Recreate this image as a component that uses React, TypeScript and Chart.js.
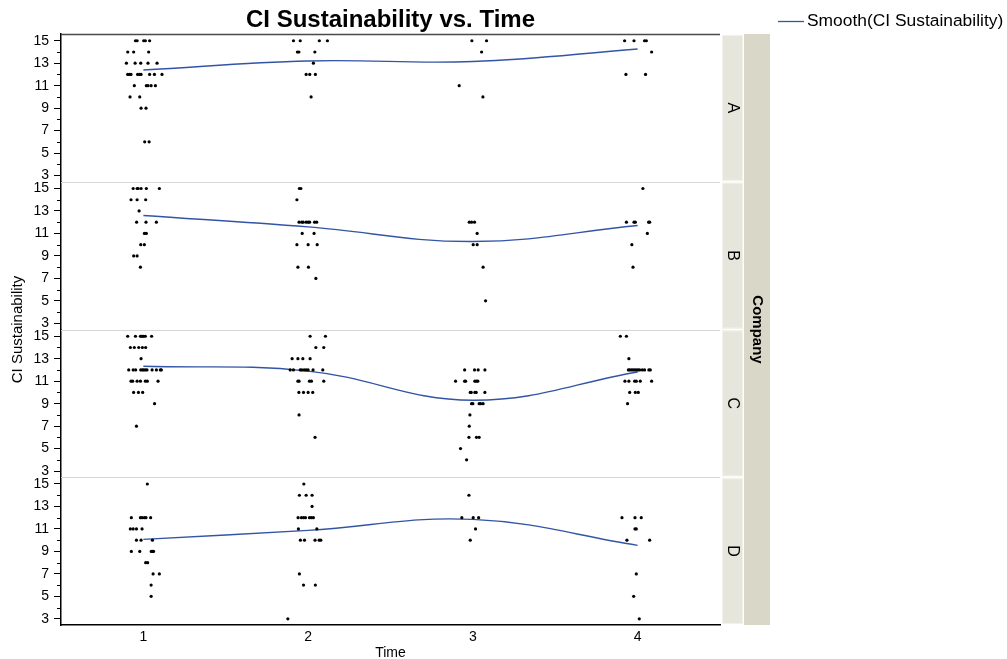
import React, { useEffect, useRef } from 'react';
import { Chart, registerables } from 'chart.js';

Chart.register(...registerables);

const FONT = "'Liberation Sans', Arial, Helvetica, sans-serif";

const companies = ['A', 'B', 'C', 'D'];
const timeTicks = [1, 2, 3, 4];
const valueTicks = [3, 4, 5, 6, 7, 8, 9, 10, 11, 12, 13, 14, 15];
const chartTitle = 'CI Sustainability vs. Time';
const yTitle = 'CI Sustainability';
const xTitle = 'Time';
const legendLabel = 'Smooth(CI Sustainability)';
const stripTitle = 'Company';

const smoothA = [12.4, 13.2, 13.15, 14.27];
const smoothB = [12.6, 11.58, 10.28, 11.7];
const smoothC = [12.33, 11.9, 9.3, 11.82];
const smoothD = [10.07, 10.87, 11.85, 9.54];

const pointsA: [number, number][] = [
  [0.952, 15], [0.962, 15], [1.002, 15], [1.012, 15], [1.038, 15],
  [0.905, 14], [0.941, 14], [1.032, 14],
  [0.897, 13], [0.95, 13], [0.984, 13], [1.028, 13], [1.083, 13],
  [0.905, 12], [0.915, 12], [0.925, 12], [0.965, 12], [0.976, 12], [0.986, 12], [1.038, 12], [1.067, 12], [1.113, 12],
  [0.945, 11], [1.018, 11], [1.028, 11], [1.047, 11], [1.073, 11],
  [0.919, 10], [0.978, 10], [0.986, 9], [1.016, 9], [1.008, 6], [1.035, 6],
  [1.911, 15], [1.952, 15], [2.068, 15], [2.117, 15], [1.935, 14], [1.944, 14], [2.041, 14],
  [2.032, 13], [1.988, 12], [2.01, 12], [2.044, 12], [2.018, 10],
  [2.994, 15], [3.083, 15], [3.053, 14], [2.917, 11], [3.061, 10],
  [3.921, 15], [3.978, 15], [4.042, 15], [4.053, 15], [4.085, 14], [3.929, 12], [4.048, 12],
];

const pointsB: [number, number][] = [
  [0.938, 15], [0.962, 15], [0.968, 15], [0.986, 15], [1.018, 15], [1.097, 15],
  [0.925, 14], [0.962, 14], [1.014, 14], [0.974, 13], [0.959, 12], [1.016, 12], [1.079, 12],
  [1.006, 11], [1.018, 11], [0.984, 10], [1.006, 10], [0.941, 9], [0.962, 9], [0.982, 8],
  [1.947, 15], [1.956, 15], [1.932, 14],
  [1.945, 12], [1.961, 12], [1.97, 12], [1.988, 12], [2.0, 12], [2.009, 12], [2.039, 12], [2.052, 12],
  [1.964, 11], [2.036, 11], [1.932, 10], [2.0, 10], [2.055, 10], [1.938, 8], [2.002, 8], [2.047, 7],
  [2.978, 12], [2.992, 12], [3.01, 12], [3.026, 11], [3.002, 10], [3.026, 10], [3.062, 8], [3.077, 5],
  [4.032, 15], [3.932, 12], [3.978, 12], [3.986, 12], [4.067, 12], [4.073, 12], [4.059, 11], [3.965, 10], [3.972, 8],
];

const pointsC: [number, number][] = [
  [0.905, 15], [0.952, 15], [0.982, 15], [0.988, 15], [0.996, 15], [1.002, 15], [1.012, 15], [1.05, 15],
  [0.921, 14], [0.945, 14], [0.972, 14], [0.994, 14], [1.014, 14], [0.986, 13],
  [0.911, 12], [0.938, 12], [0.953, 12], [0.984, 12], [0.994, 12], [1.002, 12], [1.012, 12], [1.022, 12],
  [1.053, 12], [1.079, 12], [1.103, 12], [1.109, 12],
  [0.925, 11], [0.935, 11], [0.962, 11], [0.982, 11], [1.012, 11], [1.024, 11], [1.089, 11],
  [0.941, 10], [0.97, 10], [0.996, 10], [1.068, 9], [0.958, 7],
  [2.012, 15], [2.105, 15], [2.047, 14], [2.095, 14], [1.903, 13], [1.938, 13], [1.968, 13], [2.012, 13],
  [1.891, 12], [1.911, 12], [1.952, 12], [1.962, 12], [1.976, 12], [1.988, 12], [2.0, 12], [2.03, 12], [2.089, 12],
  [1.938, 11], [1.945, 11], [2.008, 11], [2.02, 11], [2.095, 11],
  [1.944, 10], [1.972, 10], [2.0, 10], [2.028, 10], [1.945, 8], [2.042, 6],
  [2.95, 12], [3.01, 12], [3.032, 12], [3.073, 12],
  [2.895, 11], [2.95, 11], [2.956, 11], [3.012, 11], [3.022, 11], [3.03, 11],
  [2.984, 10], [2.99, 10], [3.012, 10], [3.02, 10], [3.073, 10],
  [2.992, 9], [3.0, 9], [3.038, 9], [3.047, 9], [3.062, 9],
  [2.982, 8], [2.978, 7], [2.976, 6], [3.022, 6], [3.038, 6], [2.925, 5], [2.962, 4],
  [3.895, 15], [3.932, 15], [3.947, 13],
  [3.944, 12], [3.952, 12], [3.962, 12], [3.972, 12], [3.982, 12], [3.992, 12], [4.002, 12], [4.012, 12],
  [4.028, 12], [4.042, 12], [4.068, 12], [4.077, 12],
  [3.923, 11], [3.947, 11], [3.982, 11], [3.992, 11], [4.016, 11], [4.085, 11],
  [3.952, 10], [3.986, 10], [4.004, 10], [3.939, 9],
];

const pointsD: [number, number][] = [
  [1.024, 15], [0.927, 12], [0.982, 12], [0.992, 12], [1.006, 12], [1.016, 12], [1.044, 12],
  [0.921, 11], [0.938, 11], [0.958, 11], [0.992, 11], [0.958, 10], [0.986, 10], [1.055, 10],
  [0.927, 9], [0.978, 9], [1.048, 9], [1.055, 9], [1.062, 9], [1.014, 8], [1.026, 8],
  [1.059, 7], [1.097, 7], [1.047, 6], [1.047, 5],
  [1.974, 15], [1.947, 14], [1.988, 14], [2.024, 14], [2.024, 13],
  [1.939, 12], [1.959, 12], [1.972, 12], [1.984, 12], [2.008, 12], [2.02, 12], [2.032, 12],
  [1.941, 11], [2.053, 11], [1.953, 10], [1.978, 10], [2.042, 10], [2.067, 10], [2.077, 10],
  [1.947, 7], [1.972, 6], [2.044, 6], [1.877, 3],
  [2.976, 14], [2.933, 12], [3.002, 12], [3.035, 12], [3.016, 11], [2.984, 10],
  [3.905, 12], [3.984, 12], [4.022, 12], [3.984, 11], [3.992, 11], [3.935, 10], [4.073, 10],
  [3.992, 7], [3.976, 5], [4.01, 3],
];

const pointSets = [pointsA, pointsB, pointsC, pointsD];
const smoothSets = [smoothA, smoothB, smoothC, smoothD];

const LINE_COLOR = '#3355a5';
const Y_MIN = 2.45;
const Y_MAX = 15.6;

const axisIds = companies.map((c) => 'y' + c);

const decorPlugin = {
  id: 'decor',
  beforeDatasetsDraw(chart: any) {
    const ctx = chart.ctx;
    const ca = chart.chartArea;
    ctx.save();
    ctx.strokeStyle = '#d6d6d6';
    ctx.lineWidth = 1;
    for (let i = 1; i < axisIds.length; i++) {
      const y = Math.round(chart.scales[axisIds[i]].top) + 0.5;
      ctx.beginPath();
      ctx.moveTo(ca.left, y);
      ctx.lineTo(ca.right, y);
      ctx.stroke();
    }
    ctx.restore();
  },
  afterDraw(chart: any) {
    const ctx = chart.ctx;
    const ca = chart.chartArea;
    ctx.save();
    // top border
    ctx.strokeStyle = '#4a4a4a';
    ctx.lineWidth = 1.5;
    ctx.beginPath();
    ctx.moveTo(ca.left, ca.top + 0.5);
    ctx.lineTo(ca.right, ca.top + 0.5);
    ctx.stroke();

    // minor ticks
    ctx.strokeStyle = '#000';
    ctx.lineWidth = 1;
    axisIds.forEach((id) => {
      const s = chart.scales[id];
      valueTicks.forEach((v) => {
        if (v % 2 === 0) {
          const y = Math.round(s.getPixelForValue(v)) + 0.5;
          ctx.beginPath();
          ctx.moveTo(ca.left - 4, y);
          ctx.lineTo(ca.left, y);
          ctx.stroke();
        }
      });
    });

    // strips
    const lx = ca.right + 2;
    const lw = 21;
    const dx = lx + lw + 1;
    const dw = 26;
    ctx.fillStyle = '#d9d8c8';
    ctx.fillRect(dx, ca.top, dw, ca.bottom - ca.top);
    axisIds.forEach((id, i) => {
      const s = chart.scales[id];
      const top = s.top + 1;
      const h = s.bottom - s.top - 2;
      ctx.fillStyle = '#e6e6dd';
      ctx.fillRect(lx, top, lw, h);
      ctx.strokeStyle = '#f2f2ec';
      ctx.lineWidth = 1;
      ctx.strokeRect(lx + 0.5, top + 0.5, lw - 1, h - 1);
      ctx.save();
      ctx.translate(lx + lw / 2, (s.top + s.bottom) / 2);
      ctx.rotate(Math.PI / 2);
      ctx.fillStyle = '#000';
      ctx.font = `16px ${FONT}`;
      ctx.textAlign = 'center';
      ctx.textBaseline = 'middle';
      ctx.fillText(companies[i], 0, 0);
      ctx.restore();
    });
    ctx.save();
    ctx.translate(dx + dw / 2, (ca.top + ca.bottom) / 2);
    ctx.rotate(Math.PI / 2);
    ctx.fillStyle = '#000';
    ctx.font = `bold 15px ${FONT}`;
    ctx.textAlign = 'center';
    ctx.textBaseline = 'middle';
    ctx.fillText(stripTitle, 0, 0);
    ctx.restore();

    // title
    ctx.fillStyle = '#000';
    ctx.font = `bold 24px ${FONT}`;
    ctx.textAlign = 'center';
    ctx.textBaseline = 'alphabetic';
    ctx.fillText(chartTitle, (ca.left + ca.right) / 2, 27);

    // x title
    ctx.font = `14px ${FONT}`;
    ctx.textBaseline = 'middle';
    ctx.fillText(xTitle, (ca.left + ca.right) / 2, 653);

    // y title
    ctx.save();
    ctx.translate(18, (ca.top + ca.bottom) / 2);
    ctx.rotate(-Math.PI / 2);
    ctx.font = `15px ${FONT}`;
    ctx.textAlign = 'center';
    ctx.textBaseline = 'middle';
    ctx.fillText(yTitle, 0, 0);
    ctx.restore();

    // legend
    ctx.strokeStyle = LINE_COLOR;
    ctx.lineWidth = 1.3;
    ctx.beginPath();
    ctx.moveTo(778, 21.5);
    ctx.lineTo(804, 21.5);
    ctx.stroke();
    ctx.fillStyle = '#000';
    ctx.font = `17.4px ${FONT}`;
    ctx.textAlign = 'left';
    ctx.textBaseline = 'middle';
    ctx.fillText(legendLabel, 807, 21);
    ctx.restore();
  },
};

function makeYScale() {
  return {
    type: 'linear',
    position: 'left',
    stack: 'company',
    stackWeight: 1,
    min: Y_MIN,
    max: Y_MAX,
    afterBuildTicks: (s: any) => {
      s.ticks = valueTicks.map((v) => ({ value: v }));
    },
    afterFit: (s: any) => {
      s.width = 61;
    },
    ticks: {
      autoSkip: false,
      padding: 5,
      color: '#000',
      font: { family: FONT, size: 14 },
      callback: (v: any) => (Number(v) % 2 === 1 ? String(v) : ''),
    },
    grid: {
      drawOnChartArea: false,
      drawTicks: true,
      tickLength: 7,
      tickColor: (c: any) => (c.tick && c.tick.value % 2 === 1 ? '#000' : 'rgba(0,0,0,0)'),
    },
    border: { display: true, color: '#000', width: 1.5 },
  };
}

export default function App() {
  const ref = useRef<HTMLCanvasElement | null>(null);
  useEffect(() => {
    if (!ref.current) return;
    const datasets: any[] = [];
    companies.forEach((c, i) => {
      datasets.push({
        label: 'smooth' + c,
        data: timeTicks.map((t, k) => ({ x: t, y: smoothSets[i][k] })),
        yAxisID: 'y' + c,
        showLine: true,
        borderColor: LINE_COLOR,
        borderWidth: 1.4,
        pointRadius: 0,
        tension: 0.4,
        fill: false,
        order: 1,
      });
      datasets.push({
        label: 'points' + c,
        data: pointSets[i].map(([x, y]) => ({ x, y })),
        yAxisID: 'y' + c,
        showLine: false,
        pointRadius: 1.6,
        pointBorderWidth: 0,
        backgroundColor: '#000',
        borderColor: '#000',
        order: 0,
      });
    });
    const scales: any = {
      x: {
        type: 'linear',
        position: 'bottom',
        min: 0.5,
        max: 4.5,
        afterBuildTicks: (s: any) => {
          s.ticks = timeTicks.map((v) => ({ value: v }));
        },
        afterFit: (s: any) => {
          s.height = 34;
        },
        ticks: {
          autoSkip: false,
          padding: 4,
          color: '#000',
          font: { family: FONT, size: 14 },
          maxRotation: 0,
        },
        grid: { display: false, drawTicks: false },
        border: { display: true, color: '#000', width: 1.5 },
      },
    };
    // later-defined stacked left axes are placed on top
    [...axisIds].reverse().forEach((id) => {
      scales[id] = makeYScale();
    });
    const chart = new Chart(ref.current, {
      type: 'scatter',
      data: { datasets },
      options: {
        responsive: false,
        devicePixelRatio: 1,
        animation: false,
        events: [],
        layout: { padding: { left: 0, top: 34, right: 287, bottom: 0 } },
        plugins: {
          legend: { display: false },
          title: { display: false },
          tooltip: { enabled: false },
        },
        scales,
      } as any,
      plugins: [decorPlugin],
    } as any);
    return () => chart.destroy();
  }, []);
  return (
    <div style={{ position: 'absolute', left: 0, top: 0, width: 1007, height: 659, background: '#fff' }}>
      <canvas ref={ref} width={1007} height={659} style={{ display: 'block' }} />
    </div>
  );
}
